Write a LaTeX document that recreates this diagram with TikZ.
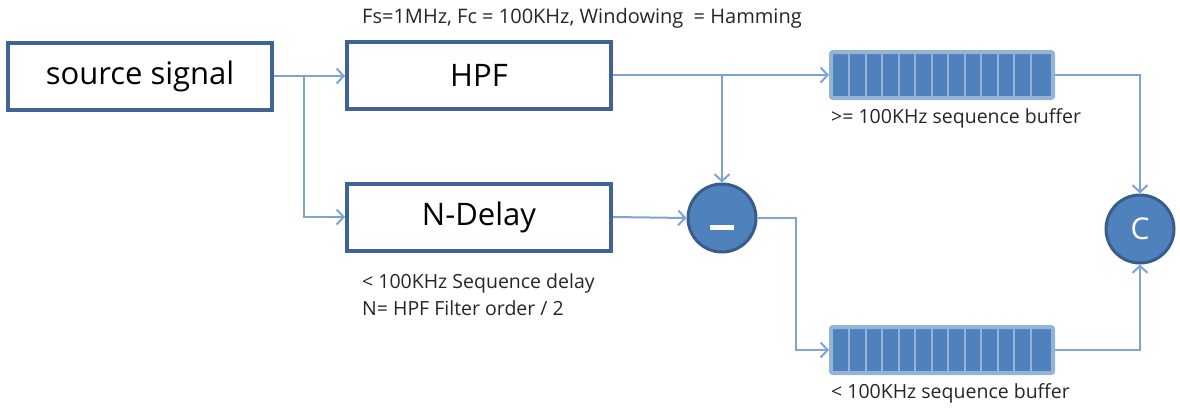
\documentclass[tikz,border=0pt]{standalone}
\usepackage{fontspec}
\setmainfont{Open Sans}
\usetikzlibrary{arrows.meta,calc}
\definecolor{boxline}{HTML}{3F6393}
\definecolor{wire}{HTML}{7EA4D6}
\definecolor{accent}{HTML}{4F81BD}
\definecolor{accentdark}{HTML}{385D8A}
\definecolor{bufrim}{HTML}{95B3D7}
\tikzset{
  block/.style={draw=boxline, line width=4pt, fill=white, minimum width=264pt,
    minimum height=67pt, inner sep=0pt, font=\fontsize{31}{36}\selectfont},
  opcircle/.style={circle, draw=accentdark, line width=3pt, fill=accent,
    minimum size=68pt, inner sep=0pt, text=white, font=\fontsize{30}{34}\selectfont},
  bufbox/.style={draw=bufrim, line width=4pt, fill=accent, rounded corners=2pt,
    minimum width=222pt, minimum height=46pt, inner sep=0pt},
  wireline/.style={draw=wire, line width=2pt},
  flow/.style={wireline, -{Straight Barb[length=7pt, width=15pt, line width=2pt]}},
  note/.style={font=\fontsize{19.5}{24}\selectfont, text=black!85, anchor=west, inner sep=0pt}
}
\begin{document}
\begin{tikzpicture}[x=1pt, y=-1pt]
  \useasboundingbox (0,0) rectangle (1180,410);

  % processing blocks
  \node[block] (src) at (140,76) {source signal};
  \node[block] (hpf) at (479,75) {HPF};
  \node[block] (dly) at (479,217) {N-Delay};

  % subtractor and combiner
  \node[opcircle] (sub) at (722,218) {};
  \fill[white] (710,224.5) rectangle (734,229.5);
  \node[opcircle] (cmb) at (1140,229) {C};

  % sequence buffers
  \node[bufbox] (bufhi) at (942,75) {};
  \node[bufbox] (buflo) at (942,350) {};
  \foreach \b in {bufhi,buflo} {
    \foreach \i in {1,...,12} {
      \draw[bufrim, line width=2pt]
        ($(\b.north west)+(4+\i*16.46,4)$) -- ($(\b.south west)+(4+\i*16.46,-4)$);
    }
  }

  % annotations
  \node[note, font=\fontsize{20}{24}\selectfont] (fir) at (362,18) {Fs=1MHz, Fc = 100KHz, Windowing \ = Hamming};
  \node[note] (dl1) at (362,283) {< 100KHz Sequence delay};
  \node[note] (dl2) at (362,308) {N= HPF Filter order / 2};
  \node[note] (bh) at (831,118) {>= 100KHz sequence buffer};
  \node[note] (bl) at (831,393) {< 100KHz sequence buffer};

  % signal flow
  \coordinate (split) at (304,76);
  \coordinate (tap) at (722,75);
  \draw[flow] (src.east) -- (hpf.west |- src.east);
  \draw[flow] (split) |- (dly.west);
  \draw[flow] (hpf.east) -- (bufhi.west);
  \draw[flow] (tap) -- (sub.north);
  \draw[flow] (dly.east) -- (sub.west);
  \draw[flow] (sub.east) -- ++(38,0) |- (buflo.west);
  \draw[flow] (bufhi.east) -| (cmb.north);
  \draw[flow] (buflo.east) -| (cmb.south);
\end{tikzpicture}
\end{document}
